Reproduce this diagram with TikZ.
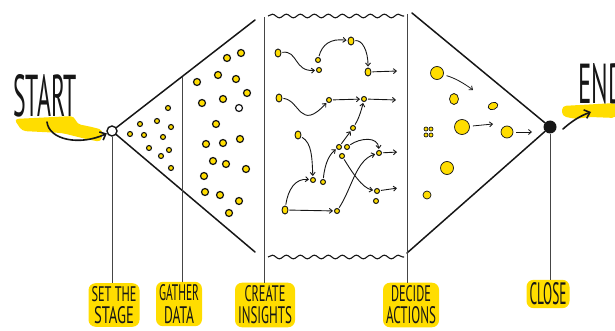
\documentclass[tikz,border=0pt]{standalone}
\usepackage{fontspec}
\usepackage{graphicx}
\setmainfont{PT Sans}
\usetikzlibrary{arrows.meta,decorations.pathmorphing,calc,shapes.geometric}
\definecolor{hl}{RGB}{255,221,0}
\definecolor{ink}{RGB}{22,22,22}
\newcommand{\rsz}[4]{\resizebox{#1pt}{#2pt}{\fontsize{#3pt}{#3pt}\selectfont #4}}
\begin{document}
\begin{tikzpicture}[x=1pt,y=-1pt,
  main/.style={line width=1.5pt,draw=ink,line cap=round},
  vline/.style={line width=0.9pt,draw=ink!80},
  lab/.style={fill=hl,rounded corners=7pt,inner sep=3pt,align=center,text=ink},
  sdot/.style={circle,draw=ink,line width=1.1pt,fill=hl,minimum size=5pt,inner sep=0pt},
  mdot/.style={circle,draw=ink,line width=1.2pt,fill=hl,minimum size=7pt,inner sep=0pt},
  idot/.style={circle,draw=ink,line width=1pt,fill=hl,minimum size=5pt,inner sep=0pt},
  bdot/.style={ellipse,draw=ink,line width=0.9pt,fill=hl,minimum width=6pt,minimum height=8pt,inner sep=0pt},
  adot/.style={circle,draw=ink,line width=0.7pt,fill=hl,inner sep=0pt},
  iarr/.style={line width=0.9pt,draw=ink,-{Straight Barb[length=3pt,width=5pt]},shorten >=1pt,shorten <=1pt},
  aarr/.style={line width=0.8pt,draw=ink,-{Straight Barb[length=3pt,width=5pt]},shorten <=3pt},
  barr/.style={line width=1.6pt,draw=ink,-{Straight Barb[length=5pt,width=9pt]},line cap=round},
  wave/.style={line width=1.1pt,draw=ink,decorate,decoration={snake,amplitude=1.8pt,segment length=14pt}}]
\useasboundingbox (0,0) rectangle (615,331);
\clip (0,0) rectangle (615,331);

% START
\fill[hl,rounded corners=4pt] (14,119) -- (74,116) -- (77,124) -- (92,127) -- (103,130) -- (101,142) -- (86,139) -- (62,133) -- (22,131) -- cycle;
\node[inner sep=0pt,text=ink] (starttxt) at (45,96) {\rsz{64}{42}{56}{START}};
% END
\fill[hl,rounded corners=4pt] (562,106) -- (616,103) -- (616,118) -- (590,117) -- (575,119) -- (562,116) -- cycle;
\node[inner sep=0pt,text=ink,anchor=west] (endtxt) at (578,84) {\rsz{46}{40}{54}{END}};

% start and end points
\node[circle,draw=ink,line width=1.4pt,fill=white,minimum size=10pt,inner sep=0pt] (start) at (112,131) {};
\node[circle,fill=ink,minimum size=13pt,inner sep=0pt] (end) at (550,127) {};
\coordinate (sa) at (47,122);
\coordinate (ea) at (563,129);
\coordinate (eb) at (591,112);
\draw[barr] (sa) .. controls (49,140) and (80,146) .. (start);
\draw[barr] (ea) .. controls (572,121) and (580,116) .. (eb);

% labels
\node[lab] (lstage) at (114,305) {\rsz{45}{15}{21}{SET THE}\\[4pt]\rsz{40}{17}{21}{STAGE}};
\node[lab] (lgather) at (179,304) {\rsz{40}{16}{21}{GATHER}\\[4pt]\rsz{30}{17}{21}{DATA}};
\node[lab] (linsight) at (265,305) {\rsz{41}{16}{21}{CREATE}\\[4pt]\rsz{54}{17}{21}{INSIGHTS}};
\node[lab] (ldecide) at (411,305) {\rsz{40}{16}{21}{DECIDE}\\[4pt]\rsz{50}{17}{21}{ACTIONS}};
\node[lab] (lclose) at (548,294) {\rsz{37}{22}{29}{CLOSE}};

% main frame
\coordinate (tt) at (255,20);
\coordinate (tb) at (255,252);
\coordinate (ct) at (412,13);
\coordinate (cb) at (407,253);
\coordinate (g) at ($(start.center)!0.4895!(tt)$);
\coordinate (ci) at (264,17);
\coordinate (da) at (407,14);
\draw[main] (start) -- (tt);
\draw[main] (start) -- (tb);
\draw[main] (ct) -- (end);
\draw[main] (cb) -- (end);
\draw[vline] (start) -- (start |- lstage.north);
\draw[vline] (g) -- (g |- lgather.north);
\draw[vline] (ci) -- (ci |- linsight.north);
\draw[vline] (da) -- (da |- ldecide.north);
\draw[vline] (end) -- (end |- lclose.north);
\coordinate (w1) at (268,16);
\coordinate (w2) at (404,16);
\coordinate (w3) at (268,257);
\coordinate (w4) at (404,257);
\draw[wave] (w1) -- (w2);
\draw[wave] (w3) -- (w4);

% gather dots
\foreach \p [count=\i] in {(168,108),(140,124),(157,121),(171,127),(130,134),(144,135),(163,137),(149,148),(169,150),(161,156),(171,168)}
  \node[sdot] (s\i) at \p {};
\foreach \p [count=\i] in {(227,58),(241,53),(197,82),(218,75),(236,79),(247,93),(202,103),(223,99),(216,124),(206,144),(223,143),(240,139),(213,161),(226,164),(246,169),(204,176),(205,192),(220,195),(239,201),(229,213)}
  \node[mdot] (m\i) at \p {};
\node[mdot,fill=white] (m0) at (239,108) {};

% insights
\node[bdot] (a1) at (278,53) {};
\node[idot] (a2) at (318,60) {};
\node[idot] (a3) at (319,70) {};
\node[bdot] (a4) at (351,41) {};
\node[bdot] (a5) at (368,72) {};
\coordinate (o1) at (398,71);
\node[bdot] (b1) at (279,98) {};
\node[idot] (b2) at (329,100) {};
\node[idot] (b3) at (364,99) {};
\coordinate (o2) at (397,100);
\node[idot] (c0) at (353,128) {};
\node[idot] (c1) at (339,147) {};
\node[idot] (c2) at (347,147) {};
\node[idot] (c3) at (342,156) {};
\node[bdot] (d1) at (298,135) {};
\node[idot] (d2) at (313,180) {};
\node[idot] (d3) at (323,182) {};
\node[idot] (e1) at (379,153) {};
\coordinate (o3) at (398,152);
\node[bdot] (f1) at (285,210) {};
\node[idot] (f2) at (337,211) {};
\node[idot] (g1) at (377,191) {};
\node[idot] (g2) at (376,201) {};
\coordinate (o4) at (398,188);

\draw[iarr] (a1) .. controls (298,50) and (294,72) .. (a3);
\draw[iarr] (a2) .. controls (322,45) and (330,38) .. (a4);
\draw[iarr] (a4) .. controls (362,40) and (368,50) .. (a5);
\draw[iarr] (a5) -- (o1);
\draw[iarr] (b1) .. controls (300,100) and (300,132) .. (b2);
\draw[iarr] (b2) -- (b3);
\draw[iarr] (b3) -- (o2);
\draw[iarr] (c0) .. controls (358,120) and (361,112) .. (b3);
\draw[iarr] (c1) -- (c0);
\draw[iarr] (d1) .. controls (312,143) and (312,158) .. (d2);
\draw[iarr] (d3) .. controls (325,162) and (330,154) .. (c1);
\draw[iarr] (c2) .. controls (360,138) and (378,136) .. (e1);
\draw[iarr] (e1) -- (o3);
\draw[iarr] (f1) .. controls (288,190) and (295,178) .. (d2);
\draw[iarr] (f1) -- (f2);
\draw[iarr] (f2) .. controls (352,188) and (356,160) .. (e1);
\draw[iarr] (c3) .. controls (352,172) and (362,188) .. (g1);
\draw[iarr] (g1) -- (o4);

% decide actions
\node[adot,minimum size=13pt] (h1) at (437,73) {};
\node[adot,ellipse,minimum width=9pt,minimum height=11pt] (h2) at (454,99) {};
\node[adot,ellipse,minimum width=10pt,minimum height=7pt,rotate=20] (h3) at (493,106) {};
\node[adot,minimum size=4pt] (h4a) at (426,129) {};
\node[adot,minimum size=4pt] (h4b) at (431,129) {};
\node[adot,minimum size=4pt] (h4c) at (426,135) {};
\node[adot,minimum size=4pt] (h4d) at (431,135) {};
\node[adot,minimum size=15pt] (h5) at (462,127) {};
\node[adot,minimum size=12pt] (h6) at (507,132) {};
\node[adot,minimum size=13pt] (h7) at (447,168) {};
\node[adot,minimum size=8pt] (h8) at (427,195) {};
\coordinate (q1) at (473,90);
\coordinate (q2) at (493,124);
\coordinate (q3) at (532,132);
\draw[aarr] (h1) .. controls (455,78) and (465,84) .. (q1);
\draw[aarr] (h5) -- (q2);
\draw[aarr] (h6) -- (q3);
\end{tikzpicture}
\end{document}
